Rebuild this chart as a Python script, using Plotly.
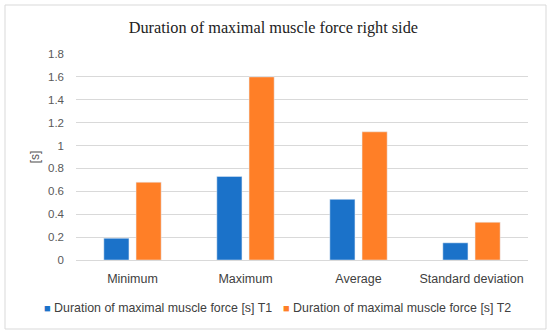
import plotly.graph_objects as go

categories = ["Minimum", "Maximum", "Average", "Standard deviation"]
t1_values = [0.19, 0.73, 0.53, 0.15]
t2_values = [0.68, 1.60, 1.12, 0.33]
series_names = ["Duration of maximal muscle force [s] T1", "Duration of maximal muscle force [s] T2"]
series_colors = ["#1b72c9", "#ff7f27"]
y_ticks = [0, 0.2, 0.4, 0.6, 0.8, 1, 1.2, 1.4, 1.6, 1.8]

W, H = 550, 335
L, R, T, B = 76, 22, 54, 75
pw, ph = W - L - R, H - T - B

def px_to_paper(x, y):
    return (x - L) / pw, (H - B - y) / ph

fig = go.Figure()
fig.add_trace(go.Bar(x=categories, y=t1_values, name=series_names[0], marker_color=series_colors[0]))
fig.add_trace(go.Bar(x=categories, y=t2_values, name=series_names[1], marker_color=series_colors[1]))

bx0, by0 = px_to_paper(5, 5)
bx1, by1 = px_to_paper(546, 329)

legend_x = [42, 281]
annotations = []
for name, color, lx in zip(series_names, series_colors, legend_x):
    ax, ay = px_to_paper(lx, 308)
    annotations.append(dict(
        xref="paper", yref="paper", x=ax, y=ay, xanchor="left", yanchor="middle", showarrow=False,
        text=f"<span style='color:{color};font-size:11px'>■</span> {name}",
        font=dict(family="Liberation Sans", size=12.4, color="#404040")))

fig.update_layout(
    width=W, height=H,
    margin=dict(l=L, r=R, t=T, b=B, autoexpand=False),
    paper_bgcolor="white", plot_bgcolor="white",
    barmode="group", bargap=0.43, bargroupgap=0.22,
    font=dict(family="Liberation Sans", size=11, color="#404040"),
    title=dict(text="Duration of maximal muscle force right side", x=0.497, xref="container",
               y=1 - 27 / H, yref="container", xanchor="center", yanchor="middle",
               font=dict(family="Liberation Serif", size=16.3, color="#222222")),
    showlegend=False,
    annotations=annotations,
    shapes=[dict(type="rect", xref="paper", yref="paper", x0=bx0, y0=by0, x1=bx1, y1=by1,
                 line=dict(color="#d9d9d9", width=1), layer="below")],
)
fig.update_xaxes(showline=True, linecolor="#d9d9d9", linewidth=1, ticks="", showgrid=False,
                 tickfont=dict(size=12.5, color="#404040"), automargin=False, ticklabelstandoff=7)
fig.update_yaxes(range=[0, 1.8], tickvals=y_ticks, ticktext=[f"{v:g}" for v in y_ticks],
                 showgrid=True, gridcolor="#d9d9d9", gridwidth=1, zeroline=False,
                 ticks="", tickfont=dict(size=11.5, color="#595959"), automargin=False,
                 ticklabelstandoff=11,
                 title=dict(text="[s]", font=dict(size=12, color="#595959"), standoff=5))

fig.write_html("out.html", config={"displayModeBar": False},
               post_script="document.body.style.margin='0';document.body.style.padding='0';")
